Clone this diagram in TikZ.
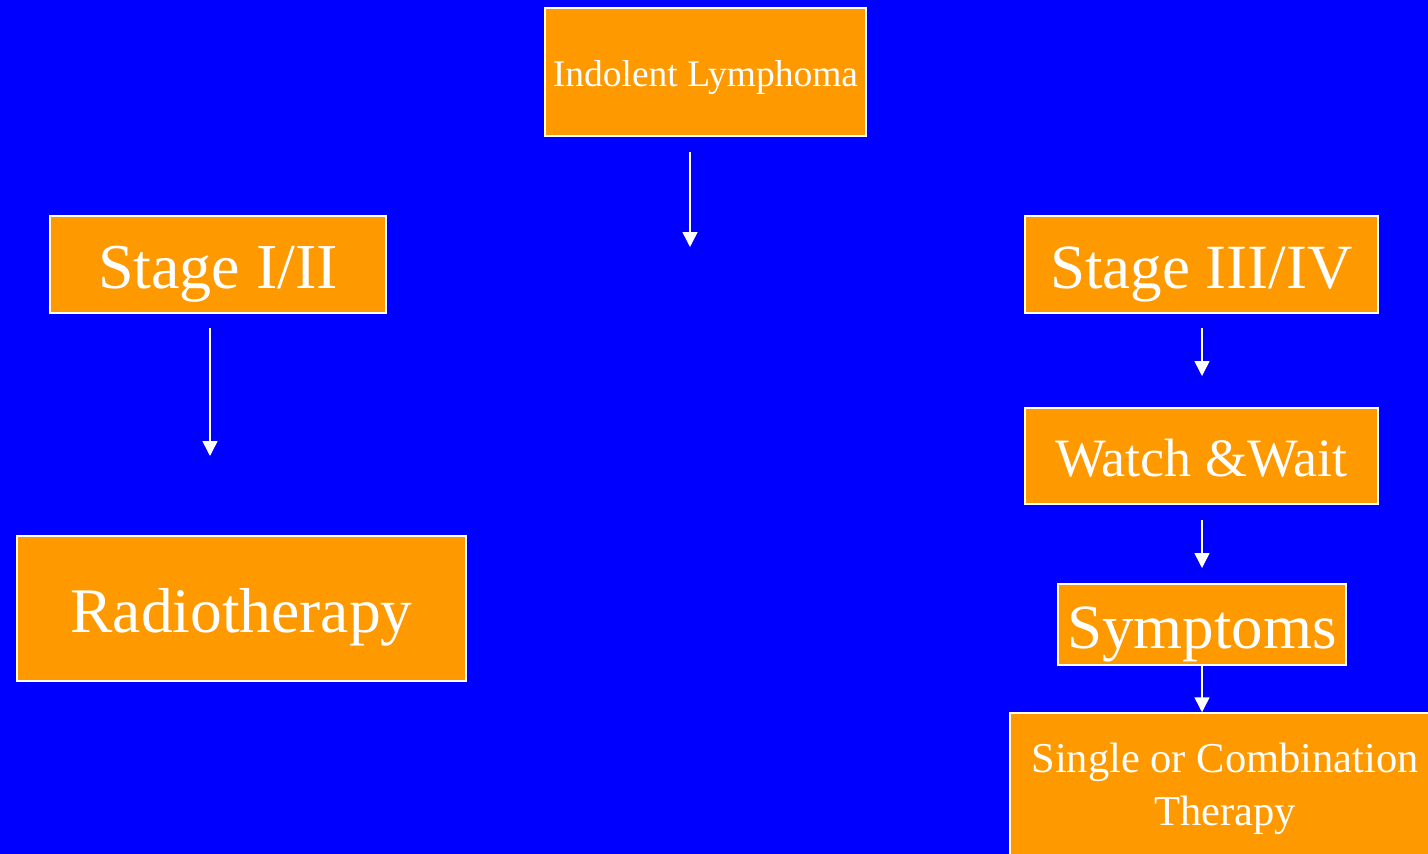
\documentclass[tikz,border=0pt]{standalone}
\usepackage{fontspec}
\setmainfont{Liberation Serif}
\usetikzlibrary{arrows.meta}
\definecolor{bgblue}{HTML}{0000FF}
\definecolor{boxorange}{HTML}{FF9900}
\tikzset{
  box/.style={draw=white, line width=1.5pt, fill=boxorange, text=white, inner sep=0pt, align=center},
  flow/.style={draw=white, line width=1.5pt, -{Triangle[width=15pt,length=15pt]}}
}
\begin{document}
\begin{tikzpicture}[x=1pt,y=-1pt]
\useasboundingbox (0,0) rectangle (1428,854);
\clip (0,0) rectangle (1428,854);
\fill[bgblue] (0,0) rectangle (1428,854);

\node[box, minimum width=321pt, minimum height=128pt, text height=29.4pt, text depth=0pt, font=\fontsize{37.5}{45}\selectfont] (ind) at (705.5,72) {Indolent Lymphoma};
\node[box, minimum width=336pt, minimum height=97pt, text height=47pt, text depth=0pt, font=\fontsize{64}{77}\selectfont] (s12) at (218,264.5) {Stage I/II};
\node[box, minimum width=353pt, minimum height=97pt, text height=47pt, text depth=0pt, font=\fontsize{63}{76}\selectfont] (s34) at (1201.5,264.5) {Stage III/IV};
\node[box, minimum width=353pt, minimum height=96pt, text height=41.4pt, text depth=0pt, font=\fontsize{54}{65}\selectfont] (ww) at (1201.5,456) {Watch \&Wait};
\node[box, minimum width=288pt, minimum height=81pt, text height=47.6pt, text depth=0pt, font=\fontsize{63}{76}\selectfont] (sym) at (1202,624.5) {Symptoms};
\node[box, minimum width=449pt, minimum height=145pt, text height=47.6pt, text depth=0pt, font=\fontsize{63.5}{76}\selectfont] (rad) at (241.5,608.5) {Radiotherapy};
\node[box, minimum width=430pt, minimum height=152pt, font=\fontsize{42.5}{52.7}\selectfont] (sct) at (1225,789) {Single or Combination\\Therapy};

\coordinate (a1s) at (690,152);
\coordinate (a1e) at (690,247);
\coordinate (a2s) at (210,328);
\coordinate (a2e) at (210,456);
\coordinate (a3s) at (1202,328);
\coordinate (a3e) at (1202,376);
\coordinate (a4s) at (1202,520);
\coordinate (a4e) at (1202,568);

\draw[flow] (a1s) -- (a1e);
\draw[flow] (a2s) -- (a2e);
\draw[flow] (a3s) -- (a3e);
\draw[flow] (a4s) -- (a4e);
\draw[flow] (sym.south) -- (sym.south |- sct.north);
\end{tikzpicture}
\end{document}
